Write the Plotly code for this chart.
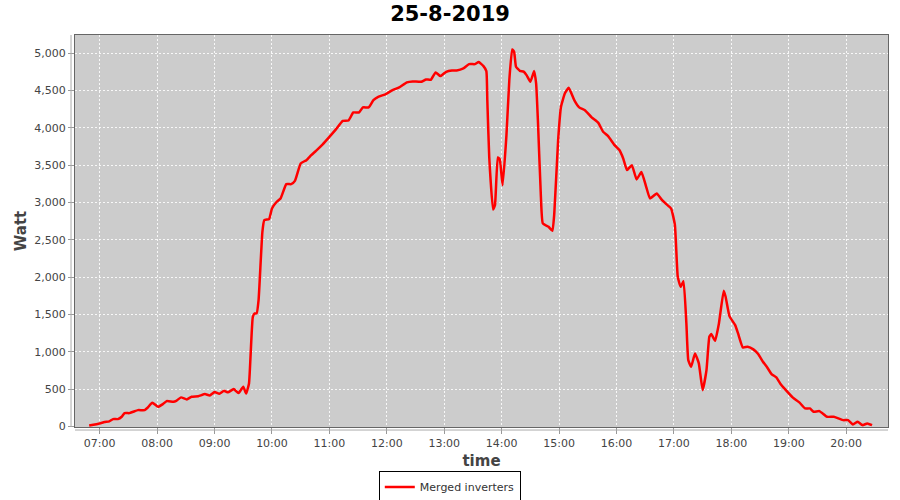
import plotly.graph_objects as go

times = ["06:49","07:00","07:05","07:10","07:14","07:19","07:23","07:26","07:31","07:35",
         "07:40","07:47","07:50","07:55","08:01","08:06","08:10","08:17","08:20","08:25",
         "08:31","08:36","08:43","08:50","08:55","09:00","09:05","09:10","09:14","09:20",
         "09:25","09:30","09:33","09:36","09:40","09:42","09:44","09:46","09:50","09:52",
         "09:57","10:00","10:05","10:09","10:15","10:20","10:24","10:30","10:36","10:41",
         "10:46","10:53","11:00","11:07","11:14","11:20","11:25","11:31","11:35","11:41",
         "11:46","11:51","11:59","12:06","12:13","12:21","12:27","12:36","12:41","12:46",
         "12:51","12:56","13:02","13:08","13:13","13:20","13:26","13:32","13:36","13:41",
         "13:44","13:45","13:47","13:51","13:53","13:56","13:58","14:01","14:05","14:08",
         "14:11","14:13","14:15","14:19","14:23","14:26","14:30","14:34","14:36","14:38",
         "14:41","14:43","14:49","14:53","14:55","14:59","15:02","15:06","15:10","15:16",
         "15:21","15:27","15:34","15:41","15:46","15:51","15:58","16:03","16:07","16:11",
         "16:16","16:21","16:26","16:31","16:35","16:42","16:47","16:52","16:57","17:01",
         "17:04","17:07","17:10","17:13","17:15","17:18","17:22","17:26","17:30","17:34",
         "17:37","17:39","17:43","17:47","17:52","17:54","17:58","18:04","18:07","18:12",
         "18:17","18:23","18:28","18:33","18:37","18:42","18:47","18:51","18:57","19:04",
         "19:11","19:17","19:22","19:26","19:32","19:40","19:47","19:52","19:57","20:02",
         "20:07","20:12","20:17","20:22","20:27"]

watts = [13,40,58,67,98,98,129,178,178,196,
         218,218,250,316,263,299,339,330,343,389,
         362,397,405,433,415,460,437,477,456,500,
         446,531,440,576,1469,1514,1514,1692,2608,2764,
         2778,2921,3010,3055,3247,3247,3291,3524,3568,3635,
         3693,3780,3880,3984,4095,4100,4207,4207,4275,4275,
         4372,4417,4453,4506,4542,4610,4623,4618,4650,4645,
         4744,4694,4752,4770,4770,4797,4855,4855,4882,4828,
         4760,4372,3613,2908,2965,3605,3580,3233,3903,4640,
         5052,5020,4819,4765,4755,4707,4618,4761,4596,4060,
         3077,2720,2675,2621,2854,3836,4283,4462,4537,4370,
         4275,4238,4141,4068,3948,3894,3769,3703,3591,3434,
         3501,3310,3408,3211,3055,3122,3042,2979,2921,2700,
         2005,1871,1947,1380,888,799,978,844,486,754,
         1201,1237,1147,1380,1817,1737,1478,1357,1246,1059,
         1067,1032,969,866,799,701,657,576,486,389,
         322,241,241,196,205,129,129,107,84,84,
         27,62,17,40,17]

day = "2019-08-25"
x_vals = [f"{day} {t}" for t in times]

fig = go.Figure()
fig.add_trace(go.Scatter(x=x_vals, y=watts, mode="lines", name="Merged inverters",
                         line=dict(color="#FF0000", width=2.5, shape="spline", smoothing=0.4)))

font_family = "DejaVu Sans"
fig.update_layout(
    width=900, height=500,
    margin=dict(l=75, r=12, t=35, b=73, autoexpand=False),
    paper_bgcolor="white", plot_bgcolor="#CCCCCC",
    title=dict(text="<b>25-8-2019</b>", x=0.5, xref="container", xanchor="center",
               y=0.972, yref="container", yanchor="middle", automargin=False,
               font=dict(family=font_family, size=21, color="black")),
    showlegend=True,
    legend=dict(orientation="h", xref="paper", yref="paper", x=0.461, y=-0.153,
                xanchor="center", yanchor="middle", bgcolor="white",
                bordercolor="black", borderwidth=1,
                font=dict(family=font_family, size=11, color="#333"),
                itemwidth=30, tracegroupgap=0),
    font=dict(family=font_family),
)
fig.update_xaxes(
    type="date", automargin=False,
    range=[f"{day} 06:34:12", f"{day} 20:43:40"],
    dtick=3600000, tick0=f"{day} 07:00", tickformat="%H:%M",
    showgrid=True, gridcolor="rgba(255,255,255,0.85)", gridwidth=1, griddash="2px,2px",
    ticks="outside", ticklen=6, tickcolor="#999",
    tickfont=dict(family=font_family, size=11, color="#444"),
    showline=True, mirror=True, linecolor="#666", linewidth=1,
    zeroline=False,
    title=dict(text="<b>time</b>", font=dict(family=font_family, size=15, color="#444"), standoff=6),
)
fig.update_yaxes(
    range=[-8, 5245], dtick=500, tick0=0, tickformat=",d", automargin=False,
    showgrid=True, gridcolor="rgba(255,255,255,0.85)", gridwidth=1, griddash="2px,2px",
    ticks="outside", ticklen=6, tickcolor="#999",
    tickfont=dict(family=font_family, size=11, color="#444"),
    showline=True, mirror=True, linecolor="#666", linewidth=1,
    zeroline=False,
    title=dict(text="<b>Watt</b>", font=dict(family=font_family, size=15, color="#444"), standoff=4),
)
# offset axis lines (JFreeChart style)
fig.add_shape(type="line", xref="paper", yref="paper", x0=-0.0049, x1=-0.0049, y0=0, y1=1,
              line=dict(color="#AAAAAA", width=1))
fig.add_shape(type="line", xref="paper", yref="paper", x0=0, x1=1, y0=-0.0077, y1=-0.0077,
              line=dict(color="#AAAAAA", width=1))

fig.write_html("out.html", config={"displayModeBar": False},
               post_script="document.body.style.margin='0';document.body.style.padding='0';document.body.style.overflow='hidden';")
